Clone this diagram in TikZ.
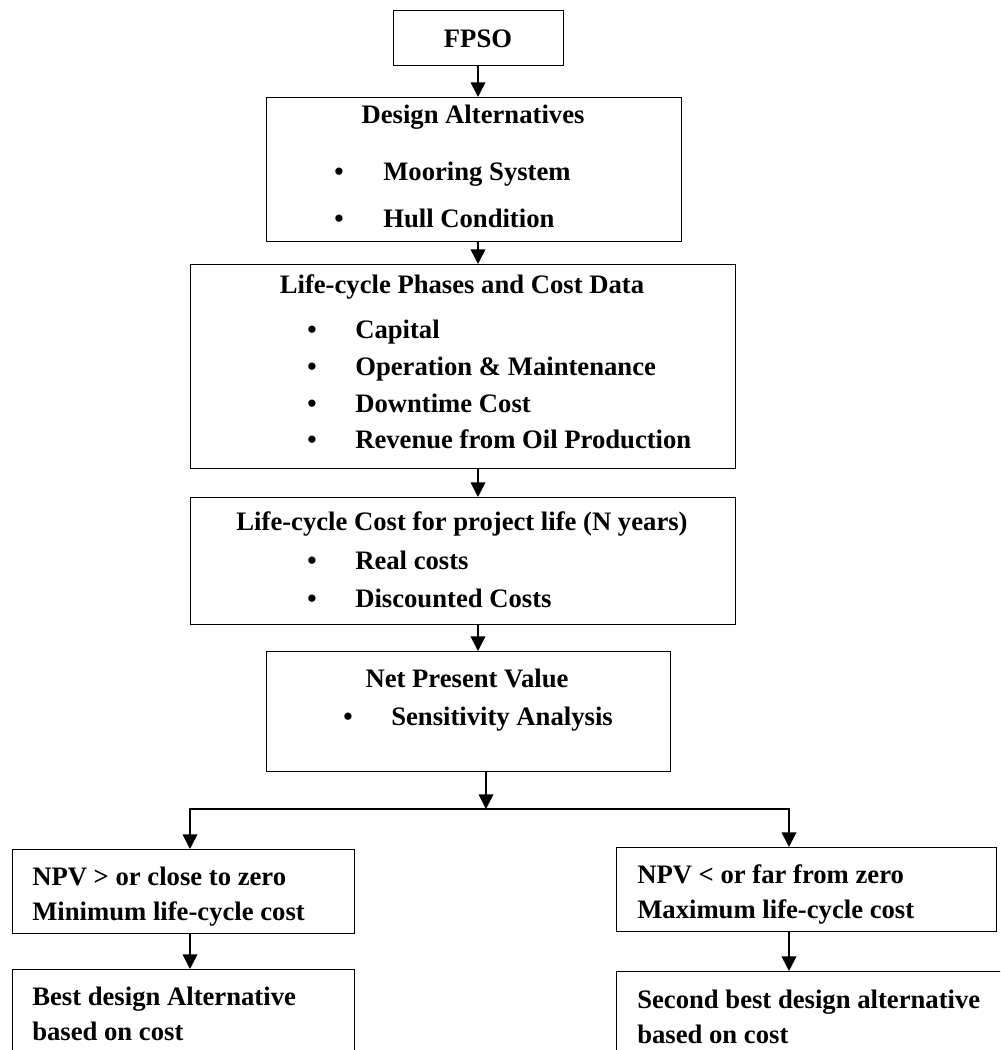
\documentclass[tikz,border=0pt]{standalone}
\usepackage{fontspec}
\setmainfont{Liberation Serif}
\usetikzlibrary{arrows.meta}
% a framed box given by its top-left and bottom-right corners (in px units)
\newcommand\flowbox[5]{\node[box, minimum width={(#4-#2)*0.75pt}, minimum height={(#5-#3)*0.75pt}] (#1) at (#2,#3) {};}
\begin{document}
\begin{tikzpicture}[x=0.75pt, y=-0.75pt,
  box/.style={draw, line width=1pt, inner sep=0pt, anchor=north west},
  lbl/.style={font=\fontsize{20}{24}\selectfont\bfseries, inner sep=0pt, anchor=base west},
  ttl/.style={lbl, anchor=base},
  dot/.style={lbl, anchor=base},
  link/.style={line width=1.2pt},
  arr/.style={link, -{Triangle[width=11pt,length=11pt]}}]

\clip (0,0) rectangle (1000,1050);

% boxes
\flowbox{fpso}{393}{10}{563}{65}
\flowbox{design}{266}{97}{681}{241}
\flowbox{phases}{190}{264}{735}{468}
\flowbox{lcc}{190}{497}{735}{624}
\flowbox{npv}{266}{651}{670}{771}
\flowbox{good}{12}{849}{354}{933}
\flowbox{bad}{616}{847}{996}{931}
\flowbox{best}{12}{969}{354}{1080}
\flowbox{second}{616}{971}{1020}{1080}

% texts
\node[ttl] (tfpso) at (478,47) {FPSO};

\node[ttl] (tdesign) at (473,123) {Design Alternatives};
\node[dot] (b1) at (339,180) {\textbullet};
\node[lbl] (t1) at (383,180) {Mooring System};
\node[dot] (b2) at (339,227) {\textbullet};
\node[lbl] (t2) at (383,227) {Hull Condition};

\node[ttl] (tphases) at (462,293) {Life-cycle Phases and Cost Data};
\node[dot] (b3) at (312,338) {\textbullet};
\node[lbl] (t3) at (355,338) {Capital};
\node[dot] (b4) at (312,375) {\textbullet};
\node[lbl] (t4) at (355,375) {Operation \& Maintenance};
\node[dot] (b5) at (312,412) {\textbullet};
\node[lbl] (t5) at (355,412) {Downtime Cost};
\node[dot] (b6) at (312,448) {\textbullet};
\node[lbl] (t6) at (355,448) {Revenue from Oil Production};

\node[ttl] (tlcc) at (462,530) {Life-cycle Cost for project life (N years)};
\node[dot] (b7) at (312,569) {\textbullet};
\node[lbl] (t7) at (355,569) {Real costs};
\node[dot] (b8) at (312,607) {\textbullet};
\node[lbl] (t8) at (355,607) {Discounted Costs};

\node[ttl] (tnpv) at (467,687) {Net Present Value};
\node[dot] (b9) at (348,725) {\textbullet};
\node[lbl] (t9) at (391,725) {Sensitivity Analysis};

\node[lbl] (g1) at (32,885) {NPV > or close to zero};
\node[lbl] (g2) at (32,920) {Minimum life-cycle cost};
\node[lbl] (r1) at (637,883) {NPV < or far from zero};
\node[lbl] (r2) at (637,918) {Maximum life-cycle cost};
\node[lbl] (s1) at (32,1005) {Best design Alternative};
\node[lbl] (s2) at (32,1040) {based on cost};
\node[lbl] (s3) at (637,1008) {Second best design alternative};
\node[lbl] (s4) at (637,1043) {based on cost};

% connectors
\coordinate (spine) at (478,0);
\coordinate (split) at (486,809);
\coordinate (lftx) at (190,809);
\coordinate (rgtx) at (789,809);

\draw[arr] (fpso.south -| spine) -- (design.north -| spine);
\draw[arr] (design.south -| spine) -- (phases.north -| spine);
\draw[arr] (phases.south -| spine) -- (lcc.north -| spine);
\draw[arr] (lcc.south -| spine) -- (npv.north -| spine);
\draw[arr] (npv.south -| split) -- (split);
\draw[arr] (split) -- (lftx) -- (good.north -| lftx);
\draw[arr] (split) -- (rgtx) -- (bad.north -| rgtx);
\draw[arr] (good.south -| lftx) -- (best.north -| lftx);
\draw[arr] (bad.south -| rgtx) -- (second.north -| rgtx);
\end{tikzpicture}
\end{document}
